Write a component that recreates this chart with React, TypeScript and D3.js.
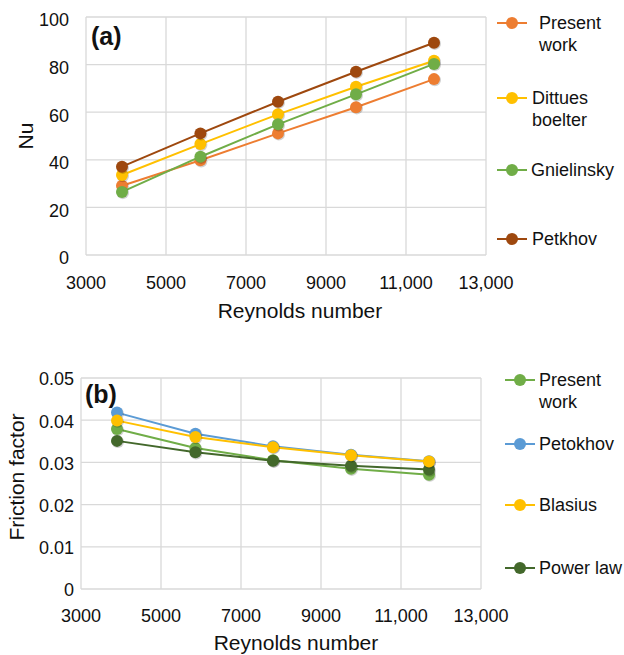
import React from "react";
import * as d3 from "d3";

const reynolds = [3900, 5860, 7800, 9750, 11700];

const nuSeriesNames = ["Present\nwork", "Dittues\nboelter", "Gnielinsky", "Petkhov"];
const nuPresent = [29.1, 39.8, 51.1, 62.1, 73.9];
const nuDittus = [33.6, 46.6, 59.1, 70.7, 81.6];
const nuGnielinsky = [26.5, 41.3, 54.9, 67.5, 80.3];
const nuPetkhov = [37.1, 51.1, 64.4, 77.0, 89.2];

const ffSeriesNames = ["Present\nwork", "Petokhov", "Blasius", "Power law"];
const ffPresent = [0.0379, 0.0334, 0.0305, 0.0285, 0.0271];
const ffPetokhov = [0.0418, 0.0368, 0.0338, 0.0318, 0.0303];
const ffBlasius = [0.0399, 0.036, 0.0336, 0.0317, 0.0302];
const ffPowerLaw = [0.0351, 0.0324, 0.0304, 0.0292, 0.0283];

const xTicks = [3000, 5000, 7000, 9000, 11000, 13000];
const nuTicks = [0, 20, 40, 60, 80, 100];
const ffTicks = [0, 0.01, 0.02, 0.03, 0.04, 0.05];

const FONT = "Liberation Sans, Arial, Helvetica, sans-serif";
const GRID = "#d9d9d9";

type Series = { name: string; values: number[]; color: string };

function fmtX(v: number) {
  return v >= 10000 ? d3.format(",")(v) : String(v);
}

function Panel(props: {
  top: number;
  bottom: number;
  left: number;
  right: number;
  yDomain: [number, number];
  yTicks: number[];
  yFmt: (v: number) => string;
  yTickGap: number;
  yTickShift: number;
  series: Series[];
  drawOrder: number[];
  yLabel: string;
  yLabelX: number;
  yLabelY: number;
  panelLabel: string;
  panelLabelPos: [number, number];
  xTickY: number;
  xTitleY: number;
  xTitleX: number;
  legendX: number;
  legendTextX: number[];
  legendY: number[];
}) {
  const x = d3.scaleLinear().domain([3000, 13000]).range([props.left, props.right]);
  const y = d3.scaleLinear().domain(props.yDomain).range([props.bottom, props.top]);
  const line = d3
    .line<number>()
    .x((_, i) => x(reynolds[i]))
    .y((d) => y(d));
  return (
    <g fontFamily={FONT}>
      {xTicks.map((t) => (
        <line key={"vx" + t} x1={x(t)} x2={x(t)} y1={props.top} y2={props.bottom} stroke={GRID} strokeWidth={1.3} />
      ))}
      {props.yTicks.map((t) => (
        <line key={"hy" + t} x1={props.left} x2={props.right} y1={y(t)} y2={y(t)} stroke={GRID} strokeWidth={1.3} />
      ))}
      {props.yTicks.map((t) => (
        <text
          key={"ty" + t}
          x={props.left - props.yTickGap}
          y={y(t) + props.yTickShift}
          dy="0.35em"
          textAnchor="end"
          fontSize={18}
          fill="#111"
        >
          {props.yFmt(t)}
        </text>
      ))}
      {xTicks.map((t) => (
        <text key={"tx" + t} x={x(t)} y={props.xTickY} textAnchor="middle" fontSize={18} fill="#111">
          {fmtX(t)}
        </text>
      ))}
      <text x={props.xTitleX} y={props.xTitleY} textAnchor="middle" fontSize={21} fill="#111">
        Reynolds number
      </text>
      <text
        transform={`translate(${props.yLabelX},${props.yLabelY}) rotate(-90)`}
        textAnchor="middle"
        fontSize={21}
        fill="#111"
      >
        {props.yLabel}
      </text>
      <text x={props.panelLabelPos[0]} y={props.panelLabelPos[1]} fontSize={25} fontWeight="bold" fill="#111">
        {props.panelLabel}
      </text>
      {props.drawOrder.map((si) => {
        const s = props.series[si];
        return (
          <g key={"s" + si}>
            <path d={line(s.values) || ""} fill="none" stroke={s.color} strokeWidth={2} />
            {s.values.map((v, i) => (
              <circle key={i} cx={x(reynolds[i]) + 0.8} cy={y(v) + 1} r={6.2} fill="rgba(0,0,0,0.18)" />
            ))}
            {s.values.map((v, i) => (
              <circle key={"c" + i} cx={x(reynolds[i])} cy={y(v)} r={6} fill={s.color} />
            ))}
          </g>
        );
      })}
      {props.series.map((s, i) => {
        const ly = props.legendY[i];
        const lines = s.name.split("\n");
        return (
          <g key={"lg" + i}>
            <line x1={props.legendX} x2={props.legendX + 30} y1={ly} y2={ly} stroke={s.color} strokeWidth={2} />
            <circle cx={props.legendX + 15} cy={ly} r={6} fill={s.color} />
            {lines.map((l, k) => (
              <text key={k} x={props.legendTextX[i]} y={ly + k * 22} dy="0.35em" fontSize={18} fill="#111">
                {l}
              </text>
            ))}
          </g>
        );
      })}
    </g>
  );
}

export default function App() {
  const nuSeries: Series[] = [
    { name: nuSeriesNames[0], values: nuPresent, color: "#ED7D31" },
    { name: nuSeriesNames[1], values: nuDittus, color: "#FFC000" },
    { name: nuSeriesNames[2], values: nuGnielinsky, color: "#70AD47" },
    { name: nuSeriesNames[3], values: nuPetkhov, color: "#9E480E" },
  ];
  const ffSeries: Series[] = [
    { name: ffSeriesNames[0], values: ffPresent, color: "#70AD47" },
    { name: ffSeriesNames[1], values: ffPetokhov, color: "#5B9BD5" },
    { name: ffSeriesNames[2], values: ffBlasius, color: "#FFC000" },
    { name: ffSeriesNames[3], values: ffPowerLaw, color: "#43682B" },
  ];
  return (
    <svg width={624} height={655} style={{ position: "absolute", left: 0, top: 0, background: "#fff" }}>
      <rect width={624} height={655} fill="#fff" />
      <Panel
        top={17}
        bottom={255}
        left={86}
        right={486}
        yDomain={[0, 100]}
        yTicks={nuTicks}
        yFmt={(v) => String(v)}
        yTickGap={17}
        yTickShift={3}
        series={nuSeries}
        drawOrder={[0, 1, 2, 3]}
        yLabel="Nu"
        yLabelX={33}
        yLabelY={136}
        panelLabel="(a)"
        panelLabelPos={[91, 45]}
        xTickY={289}
        xTitleY={318}
        xTitleX={300}
        legendX={497}
        legendTextX={[539, 532, 531, 532]}
        legendY={[23, 98, 170, 239]}
      />
      <Panel
        top={378}
        bottom={589}
        left={81}
        right={481}
        yDomain={[0, 0.05]}
        yTicks={ffTicks}
        yFmt={(v) => (v === 0 ? "0" : d3.format(".2f")(v))}
        yTickGap={7}
        yTickShift={1}
        series={ffSeries}
        drawOrder={[1, 0, 3, 2]}
        yLabel="Friction factor"
        yLabelX={24}
        yLabelY={477}
        panelLabel="(b)"
        panelLabelPos={[85, 403]}
        xTickY={622}
        xTitleY={650}
        xTitleX={296}
        legendX={505}
        legendTextX={[539, 539, 539, 539]}
        legendY={[380, 444, 505, 568]}
      />
    </svg>
  );
}
